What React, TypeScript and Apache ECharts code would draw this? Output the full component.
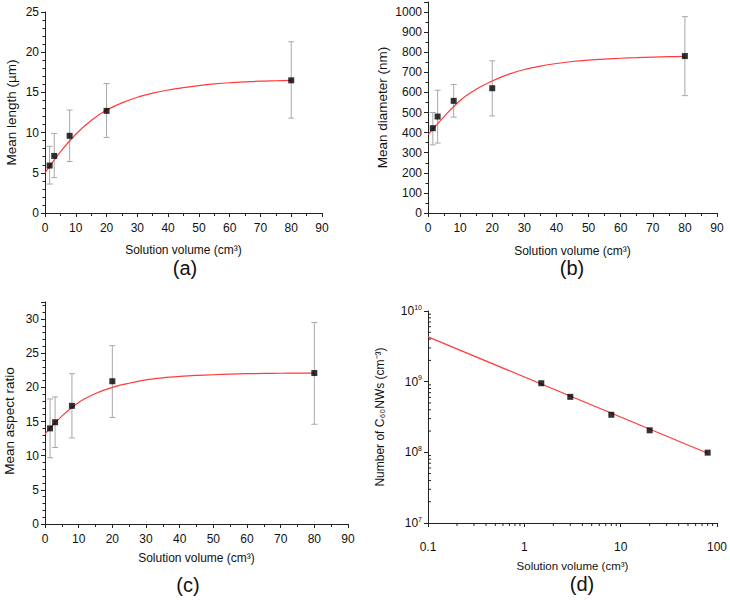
import React, { useEffect, useRef } from "react";
import * as echarts from "echarts";

// ---- data ----
const volumes = [1.5, 3, 8, 20, 80];

const lengthMean = [5.9, 7.1, 9.6, 12.7, 16.5];
const lengthLow = [3.6, 4.4, 6.4, 9.4, 11.8];
const lengthHigh = [8.3, 9.9, 12.8, 16.1, 21.3];

const diameterMean = [422, 480, 558, 621, 781];
const diameterLow = [339, 348, 477, 483, 584];
const diameterHigh = [500, 611, 639, 757, 977];

const aspectMean = [14.0, 14.9, 17.3, 20.9, 22.1];
const aspectLow = [9.7, 11.2, 12.6, 15.6, 14.6];
const aspectHigh = [18.3, 18.6, 22.0, 26.1, 29.5];

// fitted curves, every 5 cm3
const fitX = [0, 5, 10, 15, 20, 25, 30, 35, 40, 45, 50, 55, 60, 65, 70, 75, 80];
const lengthFit = [5.0, 7.6, 9.8, 11.5, 12.8, 13.7, 14.4, 14.9, 15.3, 15.6, 15.85, 16.05, 16.2, 16.3, 16.4, 16.45, 16.5];
const diameterFit = [390, 480, 560, 616, 657, 690, 714, 731, 744, 754, 761, 766, 770, 773, 776, 778, 779];
const aspectFit = [13.2, 15.8, 17.8, 19.1, 20.0, 20.6, 21.1, 21.4, 21.6, 21.75, 21.85, 21.93, 22.0, 22.04, 22.07, 22.09, 22.1];

const densityMean = [9.5e8, 6.1e8, 3.4e8, 2.05e8, 9.9e7];
const densityFitX = [0.1, 80];
const densityFitY = [4.3e9, 9.7e7];

const xMinorLog = [0.2, 0.3, 0.4, 0.5, 0.6, 0.7, 0.8, 0.9, 2, 3, 4, 5, 6, 7, 8, 9, 20, 30, 40, 50, 60, 70, 80, 90];
const yMinorLog = [2e7, 3e7, 4e7, 5e7, 6e7, 7e7, 8e7, 9e7, 2e8, 3e8, 4e8, 5e8, 6e8, 7e8, 8e8, 9e8, 2e9, 3e9, 4e9, 5e9, 6e9, 7e9, 8e9, 9e9];

const xName = "Solution volume (cm³)";
const panelLabels = ["(a)", "(b)", "(c)", "(d)"];

const FONT = "Liberation Sans, Arial, sans-serif";
const AXIS_COLOR = "#222";
const ERR_COLOR = "#a8a8a8";
const FIT_COLOR = "#ff3b3b";

function errorRender(params: any, api: any) {
  const x = api.value(0);
  const lo = api.coord([x, api.value(1)]);
  const hi = api.coord([x, api.value(2)]);
  const w = 3;
  const st = { stroke: ERR_COLOR, lineWidth: 1 };
  return {
    type: "group",
    children: [
      { type: "line", shape: { x1: lo[0], y1: lo[1], x2: hi[0], y2: hi[1] }, style: st },
      { type: "line", shape: { x1: lo[0] - w, y1: lo[1], x2: lo[0] + w, y2: lo[1] }, style: st },
      { type: "line", shape: { x1: hi[0] - w, y1: hi[1], x2: hi[0] + w, y2: hi[1] }, style: st },
    ],
  };
}

function linAxisX(gridIndex: number, nameGap: number) {
  return {
    type: "value",
    gridIndex,
    min: 0,
    max: 90,
    interval: 10,
    name: xName,
    nameLocation: "middle",
    nameGap,
    nameTextStyle: { fontSize: 12, color: "#111", fontFamily: FONT },
    axisLine: { show: true, lineStyle: { color: AXIS_COLOR, width: 1 } },
    axisTick: { show: true, inside: false, length: 4, lineStyle: { color: AXIS_COLOR } },
    minorTick: { show: true, splitNumber: 2, length: 3, lineStyle: { color: AXIS_COLOR } },
    axisLabel: { fontSize: 12, color: "#111", margin: 9, fontFamily: FONT },
    splitLine: { show: false },
  };
}

function linAxisY(
  gridIndex: number,
  name: string,
  max: number,
  interval: number,
  minorSplit: number,
  nameGap: number,
  namePadding: number[]
) {
  return {
    type: "value",
    gridIndex,
    min: 0,
    max,
    interval,
    name,
    nameLocation: "middle",
    nameGap,
    nameTextStyle: { fontSize: 13.5, color: "#111", fontFamily: FONT, padding: namePadding },
    axisLine: { show: true, lineStyle: { color: AXIS_COLOR, width: 1 } },
    axisTick: { show: true, inside: false, length: 4, lineStyle: { color: AXIS_COLOR } },
    minorTick: { show: true, splitNumber: minorSplit, length: 2.5, lineStyle: { color: AXIS_COLOR } },
    axisLabel: {
      fontSize: 12,
      color: "#111",
      margin: 6,
      fontFamily: FONT,
      showMaxLabel: max % interval === 0,
      formatter: (v: number) => String(v),
    },
    splitLine: { show: false },
  };
}

function panelSeries(idx: number, mean: number[], low: number[], high: number[], fit: number[]) {
  return [
    {
      type: "custom",
      xAxisIndex: idx,
      yAxisIndex: idx,
      renderItem: errorRender,
      data: volumes.map((v, i) => [v, low[i], high[i]]),
      encode: { x: 0, y: [1, 2] },
      z: 1,
    },
    {
      type: "line",
      xAxisIndex: idx,
      yAxisIndex: idx,
      data: fitX.map((x, i) => [x, fit[i]]),
      smooth: 0.3,
      showSymbol: false,
      symbol: "none",
      lineStyle: { color: FIT_COLOR, width: 1.2 },
      z: 2,
    },
    {
      type: "scatter",
      xAxisIndex: idx,
      yAxisIndex: idx,
      data: volumes.map((v, i) => [v, mean[i]]),
      symbol: "rect",
      symbolSize: 6,
      itemStyle: { color: "#000" },
      z: 3,
    },
  ];
}

export default function App() {
  const ref = useRef<HTMLDivElement>(null);

  useEffect(() => {
    if (!ref.current) return;
    const chart = echarts.init(ref.current, null, { renderer: "svg" });

    const option: any = {
      animation: false,
      backgroundColor: "#fff",
      textStyle: { fontFamily: FONT },
      grid: [
        { left: 45, top: 12, width: 277, height: 201 },
        { left: 428, top: 2, width: 289, height: 211 },
        { left: 45, top: 302, width: 303, height: 222 },
        { left: 428, top: 311, width: 290, height: 212 },
      ],
      xAxis: [
        linAxisX(0, 31),
        linAxisX(1, 32),
        linAxisX(2, 28),
        {
          type: "log",
          gridIndex: 3,
          logBase: 10,
          min: 0.1,
          max: 100,
          name: xName,
          nameLocation: "middle",
          nameGap: 37,
          nameTextStyle: { fontSize: 11.5, color: "#111", fontFamily: FONT },
          axisLine: { show: true, lineStyle: { color: AXIS_COLOR, width: 1 } },
          axisTick: { show: true, inside: false, length: 4, lineStyle: { color: AXIS_COLOR } },
          axisLabel: {
            fontSize: 12,
            color: "#111",
            margin: 18,
            fontFamily: FONT,
            formatter: (v: number) => (v < 1 ? v.toFixed(1) : String(Math.round(v))),
          },
          splitLine: { show: false },
        },
      ],
      yAxis: [
        linAxisY(0, "Mean length (µm)", 25, 5, 5, 27, [0, 0, 0, 0]),
        linAxisY(1, "Mean diameter (nm)", 1050, 100, 2, 39, [0, 0, 0, 0]),
        linAxisY(2, "Mean aspect ratio", 32.5, 5, 5, 29, [0, 16, 0, 0]),
        {
          type: "log",
          gridIndex: 3,
          logBase: 10,
          min: 1e7,
          max: 1e10,
          name: "Number of C₆₀NWs (cm⁻³)",
          nameLocation: "middle",
          nameGap: 42,
          nameTextStyle: { fontSize: 12, color: "#111", fontFamily: FONT },
          axisLine: { show: true, lineStyle: { color: AXIS_COLOR, width: 1 } },
          axisTick: { show: true, inside: false, length: 4, lineStyle: { color: AXIS_COLOR } },
          axisLabel: {
            fontSize: 12,
            color: "#111",
            margin: 6,
            fontFamily: FONT,
            formatter: (v: number) => "10{s|" + Math.round(Math.log10(v)) + "}",
            rich: {
              s: { fontSize: 7, color: "#111", verticalAlign: "bottom", padding: [0, 0, 8, 0], fontFamily: FONT },
            },
          },
          splitLine: { show: false },
        },
      ],
      series: [
        ...panelSeries(0, lengthMean, lengthLow, lengthHigh, lengthFit),
        ...panelSeries(1, diameterMean, diameterLow, diameterHigh, diameterFit),
        ...panelSeries(2, aspectMean, aspectLow, aspectHigh, aspectFit),
        {
          type: "line",
          xAxisIndex: 3,
          yAxisIndex: 3,
          data: densityFitX.map((x, i) => [x, densityFitY[i]]),
          showSymbol: false,
          symbol: "none",
          lineStyle: { color: FIT_COLOR, width: 1.2 },
          z: 2,
        },
        {
          type: "scatter",
          xAxisIndex: 3,
          yAxisIndex: 3,
          data: volumes.map((v, i) => [v, densityMean[i]]),
          symbol: "rect",
          symbolSize: 6,
          itemStyle: { color: "#000" },
          z: 3,
        },
        {
          type: "custom",
          xAxisIndex: 3,
          yAxisIndex: 3,
          data: xMinorLog.map((v) => [v, 1e7]),
          encode: { x: 0, y: 1 },
          renderItem: (p: any, api: any) => {
            const c = api.coord([api.value(0), api.value(1)]);
            return { type: "line", shape: { x1: c[0], y1: c[1], x2: c[0], y2: c[1] + 3 }, style: { stroke: AXIS_COLOR, lineWidth: 1 } };
          },
          silent: true,
          z: 4,
        },
        {
          type: "custom",
          xAxisIndex: 3,
          yAxisIndex: 3,
          data: yMinorLog.map((v) => [0.1, v]),
          encode: { x: 0, y: 1 },
          renderItem: (p: any, api: any) => {
            const c = api.coord([api.value(0), api.value(1)]);
            return { type: "line", shape: { x1: c[0], y1: c[1], x2: c[0] + 3, y2: c[1] }, style: { stroke: AXIS_COLOR, lineWidth: 1 } };
          },
          silent: true,
          z: 4,
        },
      ],
      graphic: [
        { type: "text", x: 185, y: 268, style: { text: panelLabels[0], fontSize: 20, fill: "#111", textAlign: "center", textVerticalAlign: "middle", fontFamily: FONT } },
        { type: "text", x: 572, y: 268, style: { text: panelLabels[1], fontSize: 20, fill: "#111", textAlign: "center", textVerticalAlign: "middle", fontFamily: FONT } },
        { type: "text", x: 188, y: 585, style: { text: panelLabels[2], fontSize: 20, fill: "#111", textAlign: "center", textVerticalAlign: "middle", fontFamily: FONT } },
        { type: "text", x: 582, y: 584, style: { text: panelLabels[3], fontSize: 20, fill: "#111", textAlign: "center", textVerticalAlign: "middle", fontFamily: FONT } },
      ],
    };

    chart.setOption(option);
    return () => chart.dispose();
  }, []);

  return (
    <div
      ref={ref}
      style={{ position: "fixed", left: 0, top: 0, width: 730, height: 600, background: "#fff" }}
    />
  );
}
